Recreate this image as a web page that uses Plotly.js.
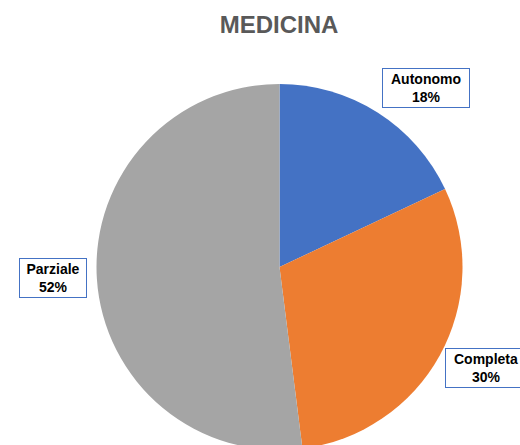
<!DOCTYPE html>
<html><head><meta charset="utf-8">
<script src="https://cdn.plot.ly/plotly-3.0.1.min.js"></script>
<style>html,body{margin:0;padding:0;overflow:hidden;background:#fff}#chart{width:520px;height:452px}</style>
</head><body><div id="chart"></div>
<script>
const categories = ["Autonomo", "Completa", "Parziale"];
const values = [18, 30, 52];
const colors = ["#4472C4", "#ED7D31", "#A5A5A5"];
const chartTitle = "MEDICINA";

const W = 520, H = 452;
const labelPos = [[426, 88, 82, 34], [486, 368, 76, 34], [53, 278, 62, 34]];
const annotations = categories.map((c, i) => ({
  text: "<b>" + c + "<br>" + values[i] + "%</b>",
  xref: "paper", yref: "paper",
  x: labelPos[i][0] / W, y: 1 - labelPos[i][1] / H,
  xanchor: "center", yanchor: "middle",
  showarrow: false,
  width: labelPos[i][2], height: labelPos[i][3],
  align: "center",
  bgcolor: "#ffffff", bordercolor: "#4472C4", borderwidth: 1, borderpad: 2,
  font: {family: "Liberation Sans, Arial, sans-serif", size: 14, color: "#000000"}
}));

Plotly.newPlot("chart", [{
  type: "pie",
  labels: categories,
  values: values,
  marker: {colors: colors, line: {width: 0}},
  sort: false,
  direction: "clockwise",
  rotation: 0,
  textinfo: "none",
  hoverinfo: "label+percent",
  domain: {x: [0.075, 1], y: [2 / H, 1 - 84 / H]}
}], {
  width: W, height: H,
  margin: {l: 0, r: 0, t: 0, b: 0},
  showlegend: false,
  paper_bgcolor: "#ffffff",
  title: {
    text: "<b>" + chartTitle + "</b>",
    x: 279 / W, xref: "paper", xanchor: "center",
    y: 1 - 25 / H, yref: "container", yanchor: "middle",
    font: {family: "Liberation Sans, Arial, sans-serif", size: 24, color: "#595959"}
  },
  annotations: annotations
}, {displayModeBar: false, staticPlot: true});
</script></body></html>
